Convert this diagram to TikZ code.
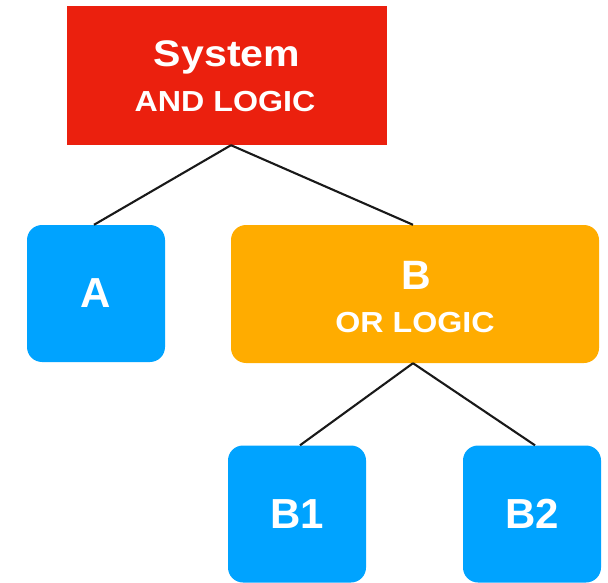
\documentclass[tikz,border=0pt]{standalone}
\usepackage{fontspec}
\setmainfont{Liberation Sans}
\newfontfamily\widesans[FakeStretch=1.11]{Liberation Sans}
\definecolor{boxred}{RGB}{235,32,14}
\definecolor{boxblue}{RGB}{0,163,255}
\definecolor{boxorange}{RGB}{255,172,0}
\tikzset{
  leafbox/.style={fill=boxblue, rounded corners=15pt, inner sep=0pt, minimum width=138pt, minimum height=137pt, text=white, font=\fontsize{42}{42}\selectfont\bfseries},
  orbox/.style={fill=boxorange, rounded corners=15pt, inner sep=0pt, minimum width=368pt, minimum height=138pt},
  andbox/.style={fill=boxred, inner sep=0pt, minimum width=320pt, minimum height=139pt},
  bigtxt/.style={anchor=base, text=white, inner sep=0pt},
  link/.style={line width=2.1pt, black!90}
}
\begin{document}
\begin{tikzpicture}[x=1pt,y=-1pt]
\useasboundingbox (0,0) rectangle (608,583);
% connectors (drawn first, under the boxes)
\node[andbox] (sys) at (227,75.5) {};
\node[leafbox] (a) at (96,293.5) {A};
\node[orbox] (b) at (415,294) {};
\node[leafbox] (b1) at (297,514) {B1};
\node[leafbox] (b2) at (532,514) {B2};
% labels
\node[bigtxt, font=\widesans\fontsize{37}{37}\selectfont\bfseries] (systitle) at (227,66.7) {System};
\node[bigtxt, font=\widesans\fontsize{29}{29}\selectfont\bfseries] (syslogic) at (225,111.7) {AND LOGIC};
\node[bigtxt, font=\fontsize{41}{41}\selectfont\bfseries] (btitle) at (416,289) {B};
\node[bigtxt, font=\widesans\fontsize{29}{29}\selectfont\bfseries] (blogic) at (415,332) {OR LOGIC};
% connectors
\draw[link] ([xshift=4pt]sys.south) -- ([xshift=-2pt]a.north);
\draw[link] ([xshift=4pt]sys.south) -- ([xshift=-2pt]b.north);
\draw[link] ([xshift=-2pt]b.south) -- ([xshift=3pt]b1.north);
\draw[link] ([xshift=-2pt]b.south) -- ([xshift=3pt]b2.north);
\end{tikzpicture}
\end{document}
